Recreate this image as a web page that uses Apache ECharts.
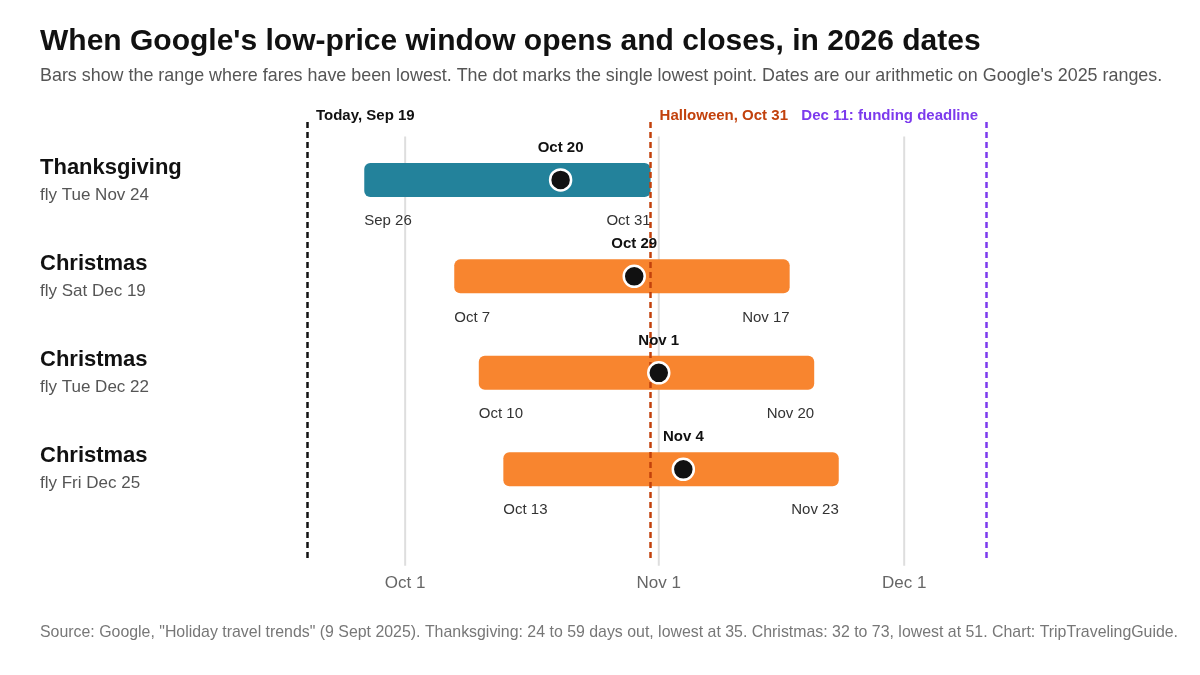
<!DOCTYPE html>
<html><head><meta charset="utf-8">
<script src="https://cdn.jsdelivr.net/npm/echarts@6/dist/echarts.min.js"></script>
<style>html,body{margin:0;background:#fff}#c{width:1200px;height:675px}</style>
</head><body><div id="c"></div>
<script>
// day offsets from Oct 1 2026
const holidays = ['Thanksgiving', 'Christmas', 'Christmas', 'Christmas'];
const flyDates = ['fly Tue Nov 24', 'fly Sat Dec 19', 'fly Tue Dec 22', 'fly Fri Dec 25'];
const startDay = [-5, 6, 9, 12];
const endDay = [30, 47, 50, 53];
const lowDay = [19, 28, 31, 34];
const startLbl = ['Sep 26', 'Oct 7', 'Oct 10', 'Oct 13'];
const endLbl = ['Oct 31', 'Nov 17', 'Nov 20', 'Nov 23'];
const lowLbl = ['Oct 20', 'Oct 29', 'Nov 1', 'Nov 4'];
const barColors = ['#23829b', '#f8852f', '#f8852f', '#f8852f'];
const tickDays = [0, 31, 61];
const tickLbl = ['Oct 1', 'Nov 1', 'Dec 1'];
const refDays = [-12, 30, 71];
const refLbl = ['Today, Sep 19', 'Halloween, Oct 31', 'Dec 11: funding deadline'];
const refColors = ['#111', '#c2410c', '#7c3aed'];

let chart = echarts.init(document.getElementById('c'));

let rows = holidays.map((h, i) => [startDay[i], endDay[i], i, lowDay[i]]);
let ff = 'Liberation Sans, Arial';

let graphics = [
    {type: 'text', left: 40, top: 27, style: {text: "When Google's low-price window opens and closes, in 2026 dates", font: 'bold 30px ' + ff, fill: '#111'}},
    {type: 'text', left: 40, top: 67, style: {text: "Bars show the range where fares have been lowest. The dot marks the single lowest point. Dates are our arithmetic on Google's 2025 ranges.", font: '17.9px ' + ff, fill: '#555'}},
    {type: 'text', left: 40, top: 625, style: {text: 'Source: Google, "Holiday travel trends" (9 Sept 2025). Thanksgiving: 24 to 59 days out, lowest at 35. Christmas: 32 to 73, lowest at 51. Chart: TripTravelingGuide.', font: '15.9px ' + ff, fill: '#777'}}
];
holidays.forEach((h, i) => {
    graphics.push({type: 'text', left: 40, top: 157 + i * 96, style: {text: h, font: 'bold 22px ' + ff, fill: '#111'}});
    graphics.push({type: 'text', left: 40, top: 187 + i * 96, style: {text: flyDates[i], font: '17px ' + ff, fill: '#555'}});
});

let option = {
    animation: false,
    graphic: graphics,
    grid: {left: 307, right: 214, top: 122, bottom: 114},
    xAxis: {
        type: 'value', min: -12, max: 71,
        axisLine: {show: false}, axisTick: {show: false}, splitLine: {show: false},
        axisLabel: {customValues: tickDays, formatter: v => tickLbl[tickDays.indexOf(v)], color: '#666', fontSize: 17, margin: 14}
    },
    yAxis: {type: 'value', inverse: true, min: -0.6, max: 3.95, show: false},
    series: [
        {
            // month grid lines, behind the bars
            type: 'custom', z: 0, silent: true, clip: false,
            data: tickDays.map(d => [d]),
            renderItem: function (params, api) {
                let top = api.coord([api.value(0), -0.45]);
                let bot = api.coord([api.value(0), 4.0]);
                return {type: 'line', shape: {x1: top[0], y1: top[1], x2: bot[0], y2: bot[1]}, style: {stroke: '#dedede', lineWidth: 2}};
            }
        },
        {
            type: 'custom', data: rows, z: 2,
            renderItem: function (params, api) {
                let p0 = api.coord([api.value(0), api.value(2)]);
                let p1 = api.coord([api.value(1), api.value(2)]);
                let i = params.dataIndex;
                let font = '15px ' + ff;
                return {type: 'group', children: [
                    {type: 'rect', shape: {x: p0[0], y: p0[1] - 17, width: p1[0] - p0[0], height: 34, r: 6}, style: {fill: barColors[i]}},
                    {type: 'text', style: {text: startLbl[i], x: p0[0], y: p0[1] + 41, font: font, fill: '#333', align: 'left', verticalAlign: 'middle'}},
                    {type: 'text', style: {text: endLbl[i], x: p1[0], y: p1[1] + 41, font: font, fill: '#333', align: 'right', verticalAlign: 'middle'}}
                ]};
            }
        },
        {
            type: 'line', data: [], silent: true, z: 3,
            markLine: {
                symbol: 'none', silent: true, label: {show: false},
                data: refDays.map((d, i) => ({xAxis: d, lineStyle: {color: refColors[i], width: 2.5, type: [6, 4]}}))
            }
        },
        {
            type: 'scatter', z: 5,
            data: lowDay.map((d, i) => [d, i]),
            symbolSize: 21,
            itemStyle: {color: '#111', borderColor: '#fff', borderWidth: 2.5, opacity: 1},
            label: {show: true, position: 'top', distance: 13, formatter: p => lowLbl[p.dataIndex], fontWeight: 'bold', fontSize: 15, color: '#111'}
        },
        {
            // reference line labels, drawn from the same day values
            type: 'custom', z: 6, silent: true, clip: false,
            data: refDays.map((d, i) => [d, i]),
            renderItem: function (params, api) {
                let i = params.dataIndex;
                let p = api.coord([api.value(0), -0.6]);
                let left = i === 2;
                return {type: 'text', style: {
                    text: refLbl[i], x: p[0] + (left ? -8 : 9), y: p[1] - 6,
                    font: 'bold 15px ' + ff, fill: refColors[i],
                    align: left ? 'right' : 'left', verticalAlign: 'middle'
                }};
            }
        }
    ]
};
chart.setOption(option);
</script>
</body></html>
